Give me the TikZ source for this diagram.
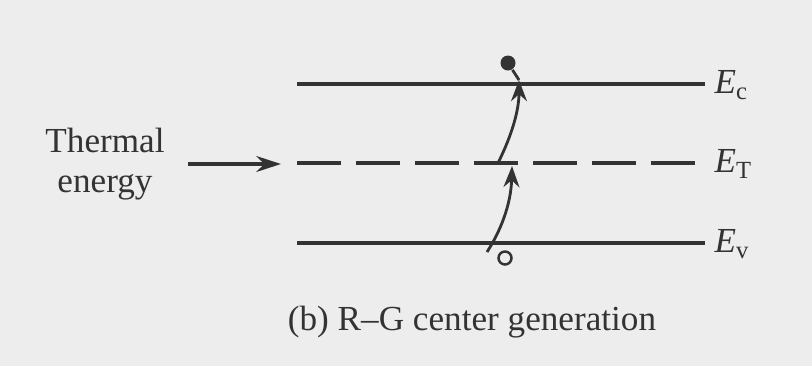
\documentclass[tikz,border=0pt]{standalone}
\usepackage{fontspec}
\setmainfont{Liberation Serif}
\usetikzlibrary{arrows.meta}
\definecolor{ink}{gray}{0.2}
\definecolor{paper}{gray}{0.93}
\tikzset{
  level/.style = {draw=ink, line width=0.9pt},
  trap/.style  = {draw=ink, line width=0.9pt, dash pattern=on 0.44cm off 0.15cm},
  jump/.style  = {draw=ink, line width=0.8pt, -{Stealth[length=6pt,width=4.5pt]}},
  heat/.style  = {draw=ink, line width=1.1pt, -{Stealth[length=7pt,width=4.5pt]}},
  elec/.style  = {circle, fill=ink, inner sep=0, minimum size=0.15cm},
  hole/.style  = {circle, draw=ink, line width=0.7pt, fill=paper, inner sep=0, minimum size=0.13cm},
  lbl/.style   = {anchor=west, inner sep=0, text=ink, font=\fontsize{10pt}{12pt}\selectfont},
  txt/.style   = {text=ink, inner sep=0, font=\fontsize{10pt}{9.4pt}\selectfont}
}
\begin{document}
\begin{tikzpicture}[x=0.01cm, y=-0.01cm]
  \fill[paper] (0,0) rectangle (812,366);
  \useasboundingbox (0,0) rectangle (812,366);

  % levels
  \coordinate (c0) at (297,84);  \coordinate (c1) at (705,84);
  \coordinate (t0) at (297,163); \coordinate (t1) at (697,163);
  \coordinate (v0) at (297,243); \coordinate (v1) at (705,243);
  \draw[level] (c0) -- (c1);
  \draw[trap]  (t0) -- (t1);
  \draw[level] (v0) -- (v1);
  \node[lbl] (Ec) at (714,85)  {\textit{E}\textsubscript{c}};
  \node[lbl] (ET) at (714,164) {\textit{E}\textsubscript{T}};
  \node[lbl] (Ev) at (714,244) {\textit{E}\textsubscript{v}};

  % thermal energy in
  \node[txt, align=center] (th) at (105,164) {Thermal\\[2pt]energy};
  \coordinate (a0) at (188,164); \coordinate (a1) at (281,164);
  \draw[heat] (a0) -- (a1);

  % hole -> trap -> conduction band
  \node[hole] (ho) at (505,258) {};
  \node[elec] (el) at (508,63) {};
  \coordinate (h0) at (487,252); \coordinate (h1) at (512,166);
  \draw[jump] (h0) .. controls (500,232) and (511,205) .. (h1);
  \coordinate (e0) at (498,163); \coordinate (e1) at (519,80);
  \draw[jump] (e0) .. controls (512,135) and (519,110) .. (e1);
  \draw[ink, line width=0.8pt] (e1) -- (el);

  \node[txt, anchor=base] (cap) at (472,330) {(b) R–G center generation};
\end{tikzpicture}
\end{document}
